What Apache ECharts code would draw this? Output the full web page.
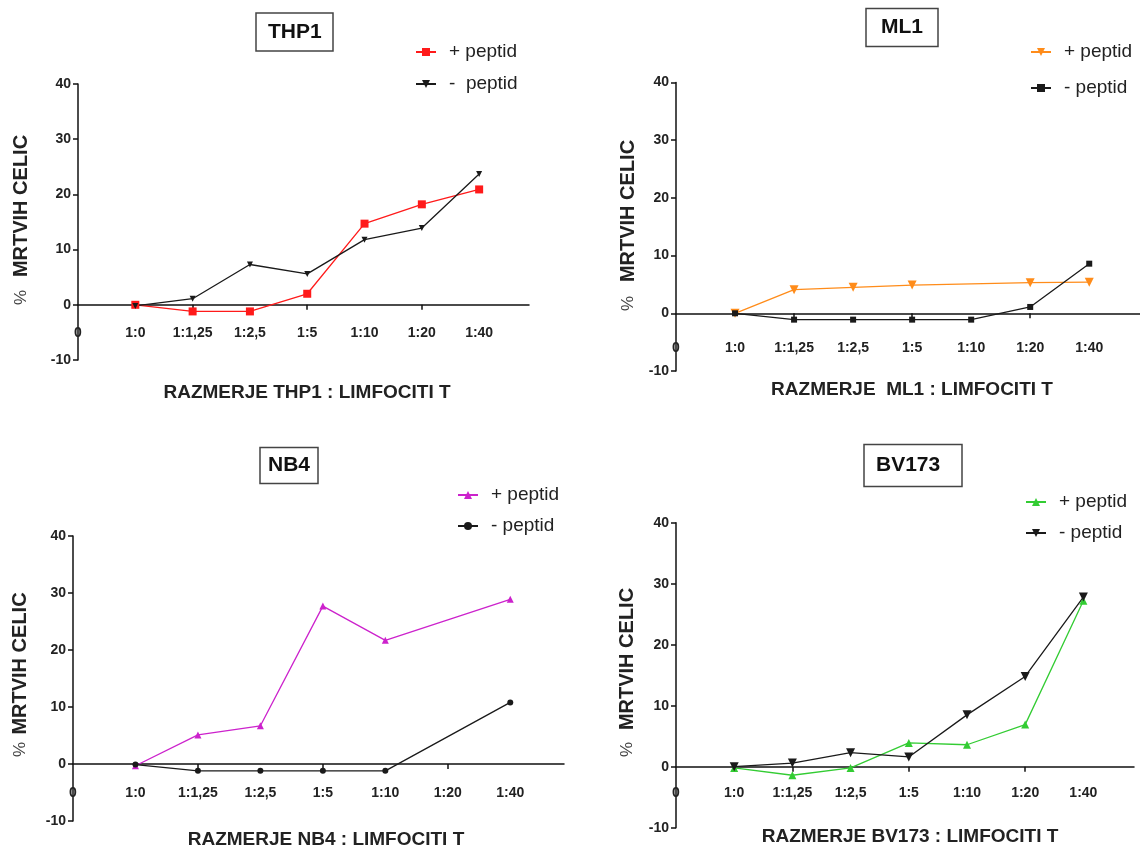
<!DOCTYPE html>
<html>
<head>
<meta charset="utf-8">
<script src="https://cdn.jsdelivr.net/npm/echarts@6/dist/echarts.min.js"></script>
<style>
html,body{margin:0;padding:0;background:#fff;}
#chart{width:1140px;height:849px;}
</style>
</head>
<body>
<div id="chart"></div>
<script>
// ---------- DATA ----------
const categories = ['1:0', '1:1,25', '1:2,5', '1:5', '1:10', '1:20', '1:40'];
const xTickLabels = ['0'].concat(categories);
const yTickMin = -10, yTickMax = 40, yTickStep = 10;

const thp1Plus  = [0, -1.2, -1.2, 2.0, 14.7, 18.2, 20.9];
const thp1Minus = [-0.2, 1.1, 7.3, 5.6, 11.8, 13.9, 23.7];
const ml1Plus   = [0, 4.1, 4.5, 4.9, null, 5.3, 5.4];
const ml1Minus  = [0, -1.1, -1.1, -1.1, -1.1, 1.1, 8.6];
const nb4Plus   = [-0.3, 5.1, 6.7, 27.7, 21.7, null, 28.9];
const nb4Minus  = [-0.1, -1.2, -1.2, -1.2, -1.2, null, 10.8];
const bv173Plus  = [-0.2, -1.4, -0.2, 3.9, 3.6, 6.9, 27.2];
const bv173Minus = [0, 0.6, 2.3, 1.6, 8.5, 14.8, 27.8];

const panelTitles = ['THP1', 'ML1', 'NB4', 'BV173'];
const xTitles = ['RAZMERJE THP1 : LIMFOCITI T', 'RAZMERJE  ML1 : LIMFOCITI T', 'RAZMERJE NB4 : LIMFOCITI T', 'RAZMERJE BV173 : LIMFOCITI T'];
const plusLabels = ['+ peptid', '+ peptid', '+ peptid', '+ peptid'];
const minusLabels = ['-  peptid', '- peptid', '- peptid', '- peptid'];
const yTitleMain = 'MRTVIH CELIC';
const yTitlePct = '%';

// ---------- LAYOUT / STYLE ----------
const FONT = '"Liberation Sans", Arial, sans-serif';
const downTri = 'path://M0,0 L10,0 L5,9 Z';
const BLACK = '#1a1a1a';

const panels = [
  { plus: thp1Plus, minus: thp1Minus,
    grid: {left: 78, top: 84, width: 451, height: 276}, xmax: 7.87, labelMargin: 21,
    plusStyle: {color: '#ff1a1a', symbol: 'rect', size: 8},
    minusStyle: {color: BLACK, symbol: downTri, size: 6},
    title: {left: 256, top: 13, padding: [7, 12, 7, 12]},
    legend: {left: 415, top: 42, itemGap: 12},
    xTitle: [307, 393], yTitle: [21.5, 206, 297.5] },
  { plus: ml1Plus, minus: ml1Minus,
    grid: {left: 676, top: 82.5, width: 464, height: 288.5}, xmax: 7.86, labelMargin: 28,
    plusStyle: {color: '#ff8c1a', symbol: downTri, size: 9},
    minusStyle: {color: BLACK, symbol: 'rect', size: 6},
    title: {left: 866, top: 8, padding: [7.5, 15, 7.5, 15]},
    legend: {left: 1030, top: 42, itemGap: 16},
    xTitle: [912, 390], yTitle: [628, 211, 303.5] },
  { plus: nb4Plus, minus: nb4Minus,
    grid: {left: 73, top: 536, width: 491, height: 285}, xmax: 7.86, labelMargin: 22,
    plusStyle: {color: '#cc22cc', symbol: 'triangle', size: 7},
    minusStyle: {color: BLACK, symbol: 'circle', size: 6},
    title: {left: 260, top: 447, padding: [6.5, 8, 6.5, 8]},
    legend: {left: 457, top: 485, itemGap: 11},
    xTitle: [326, 840], yTitle: [20, 663.5, 749.5] },
  { plus: bv173Plus, minus: bv173Minus,
    grid: {left: 676, top: 522.7, width: 458, height: 305}, xmax: 7.87, labelMargin: 19,
    plusStyle: {color: '#33cc33', symbol: 'triangle', size: 8},
    minusStyle: {color: BLACK, symbol: downTri, size: 9},
    title: {left: 864, top: 444, padding: [9.5, 22, 9.5, 12]},
    legend: {left: 1025, top: 492, itemGap: 11},
    xTitle: [910, 837], yTitle: [627, 659, 749.5] }
];

const grids = [], xAxes = [], yAxes = [], series = [], titles = [], legends = [], graphics = [];
const nameMap = {};

panels.forEach((p, i) => {
  grids.push(Object.assign({containLabel: false}, p.grid));
  // move the x axis up to the y=0 level of its grid
  const zeroOffset = -p.grid.height * (0 - yTickMin) / (yTickMax - yTickMin);
  xAxes.push({
    type: 'value', gridIndex: i, min: 0, max: p.xmax, position: 'bottom', offset: zeroOffset,
    axisLine: {show: true, onZero: false, lineStyle: {color: '#111', width: 1.5}},
    axisTick: {show: true, customValues: [2, 4, 6], length: 5, lineStyle: {color: '#111', width: 1.5}},
    axisLabel: {
      customValues: xTickLabels.map((_, k) => k),
      formatter: v => xTickLabels[Math.round(v)],
      margin: p.labelMargin, fontSize: 14, fontWeight: 'bold', color: '#222', fontFamily: FONT
    },
    splitLine: {show: false}
  });
  yAxes.push({
    type: 'value', gridIndex: i, min: yTickMin, max: yTickMax, interval: yTickStep,
    axisLine: {show: true, onZero: false, lineStyle: {color: '#111', width: 1.5}},
    axisTick: {show: true, length: 5, lineStyle: {color: '#111', width: 1.5}},
    axisLabel: {margin: 7, fontSize: 14, fontWeight: 'bold', color: '#222', fontFamily: FONT},
    splitLine: {show: false}
  });
  const plusName = 'p' + i + '_plus', minusName = 'p' + i + '_minus';
  nameMap[plusName] = plusLabels[i];
  nameMap[minusName] = minusLabels[i];
  [[plusName, p.plus, p.plusStyle], [minusName, p.minus, p.minusStyle]].forEach(([name, vals, st]) => {
    series.push({
      type: 'line', name: name, xAxisIndex: i, yAxisIndex: i,
      data: vals.map((v, k) => [k + 1, v]),
      connectNulls: true,
      symbol: st.symbol, symbolSize: st.size,
      lineStyle: {color: st.color, width: 1.3},
      itemStyle: {color: st.color},
      emphasis: {disabled: true},
      animation: false
    });
  });
  titles.push({
    text: panelTitles[i], left: p.title.left, top: p.title.top, padding: p.title.padding,
    borderColor: '#444', borderWidth: 1.5, backgroundColor: '#fff',
    textStyle: {fontSize: 21, fontWeight: 'bold', color: '#111', lineHeight: 24, fontFamily: FONT}
  });
  legends.push({
    data: [plusName, minusName], orient: 'vertical', left: p.legend.left, top: p.legend.top,
    itemWidth: 20, itemHeight: 10, itemGap: p.legend.itemGap, padding: 0, selectedMode: false,
    formatter: n => nameMap[n],
    textStyle: {fontSize: 19, color: '#222', fontFamily: FONT, lineHeight: 20, padding: [0, 0, 0, 8]}
  });
  graphics.push({
    type: 'text', x: p.xTitle[0], y: p.xTitle[1],
    style: {text: xTitles[i], font: 'bold 19px ' + FONT, fill: '#222',
      textAlign: 'center', textVerticalAlign: 'middle', align: 'center', verticalAlign: 'middle'}
  });
  graphics.push({
    type: 'text', x: p.yTitle[0], y: p.yTitle[1], rotation: Math.PI / 2,
    style: {text: yTitleMain, font: 'bold 20px ' + FONT, fill: '#222',
      textAlign: 'center', textVerticalAlign: 'middle', align: 'center', verticalAlign: 'middle'}
  });
  graphics.push({
    type: 'text', x: p.yTitle[0], y: p.yTitle[2], rotation: Math.PI / 2,
    style: {text: yTitlePct, font: '17px ' + FONT, fill: '#444',
      textAlign: 'center', textVerticalAlign: 'middle', align: 'center', verticalAlign: 'middle'}
  });
});

const chart = echarts.init(document.getElementById('chart'), null, {renderer: 'canvas'});
chart.setOption({
  backgroundColor: '#fff',
  animation: false,
  title: titles,
  legend: legends,
  grid: grids,
  xAxis: xAxes,
  yAxis: yAxes,
  series: series,
  graphic: graphics
});
</script>
</body>
</html>
